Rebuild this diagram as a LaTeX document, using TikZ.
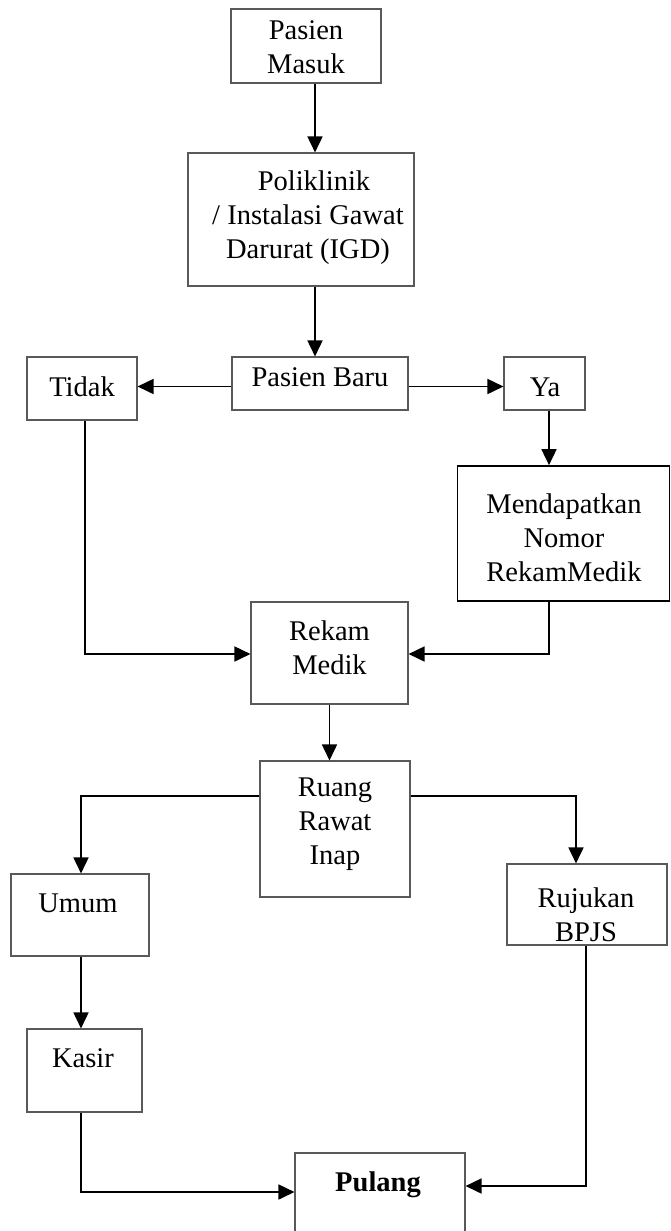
\documentclass[tikz,border=0pt]{standalone}
\usepackage{fontspec}
\setmainfont{Liberation Serif}
\usetikzlibrary{arrows.meta}
\tikzset{
  box/.style={draw=black!65, line width=1.1pt, inner sep=0pt, rectangle},
  boldbox/.style={draw=black, line width=1.7pt, inner sep=0pt, rectangle},
  txt/.style={align=center, inner sep=0pt, font=\fontsize{28.5}{34}\selectfont},
  arr/.style={line width=1.7pt, -{Triangle[length=16pt,width=15pt]}},
}
\begin{document}
\begin{tikzpicture}[x=1pt,y=-1pt]
\useasboundingbox (0,0) rectangle (671,1231);
% boxes
\node[box, minimum width=150pt, minimum height=74pt] (pm) at (306,46) {};
\node[box, minimum width=226pt, minimum height=133pt] (poli) at (301,219.5) {};
\node[box, minimum width=176pt, minimum height=53pt] (pb) at (320,383.5) {};
\node[box, minimum width=110pt, minimum height=63pt] (tidak) at (82,388.5) {};
\node[box, minimum width=81pt, minimum height=53pt] (ya) at (544.5,383.5) {};
\node[boldbox, minimum width=212pt, minimum height=135pt] (mn) at (563.5,533.5) {};
\node[box, minimum width=157pt, minimum height=102pt] (rm) at (329.5,653) {};
\node[box, minimum width=150pt, minimum height=136pt] (rri) at (335,829) {};
\node[box, minimum width=138pt, minimum height=82pt] (umum) at (80,915) {};
\node[box, minimum width=160pt, minimum height=81pt] (rujukan) at (587,904.5) {};
\node[box, minimum width=115pt, minimum height=83pt] (kasir) at (84.5,1070.5) {};
\node[box, minimum width=170pt, minimum height=92pt] (pulang) at (380,1199) {};
% texts
\node[txt] (pmt) at (306,47.5) {Pasien\\Masuk};
\node[txt] (polit) at (308,218) {\hspace*{12pt}Poliklinik\\/ Instalasi Gawat\\Darurat (IGD)};
\node[txt] (pbt) at (320,377) {Pasien Baru};
\node[txt] (tidakt) at (82,387) {Tidak};
\node[txt] (yat) at (545,387) {Ya};
\node[txt] (mnt) at (564,538) {Mendapatkan\\Nomor\\RekamMedik};
\node[txt] (rmt) at (329.5,648) {Rekam\\Medik};
\node[txt] (rrit) at (335,824) {Ruang\\Rawat\\Inap};
\node[txt] (umumt) at (78,903) {Umum};
\node[txt] (rujt) at (586,914.5) {Rujukan\\BPJS};
\node[txt] (kasirt) at (83,1058) {Kasir};
\node[txt, font=\fontsize{28.5}{34}\selectfont\bfseries] (pulangt) at (378,1185) {Pulang};
% connectors
\draw[arr] ([xshift=9pt]pm.south) -- ([xshift=9pt]pm.south |- poli.north);
\draw[arr] ([xshift=14pt]poli.south) -- ([xshift=14pt]poli.south |- pb.north);
\draw[arr] ([yshift=-3pt]pb.west) -- ([yshift=-3pt]pb.west -| tidak.east);
\draw[arr] ([yshift=-3pt]pb.east) -- ([yshift=-3pt]pb.east -| ya.west);
\draw[arr] ([xshift=4.5pt]ya.south) -- ([xshift=4.5pt]ya.south |- mn.north);
\draw[arr] ([xshift=3pt]tidak.south) |- ([yshift=-1pt]rm.west);
\draw[arr] ([xshift=-14.5pt]mn.south) |- ([yshift=-1pt]rm.east);
\draw[arr] (rm.south) -- (rm.south |- rri.north);
\draw[arr] ([yshift=33pt]rri.west) -| ([xshift=1pt]umum.north);
\draw[arr] ([yshift=33pt]rri.east) -| ([xshift=-11pt]rujukan.north);
\draw[arr] ([xshift=1pt]umum.south) -- ([xshift=1pt]umum.south |- kasir.north);
\draw[arr] ([xshift=-3.5pt]kasir.south) |- ([yshift=7pt]pulang.west);
\draw[arr] ([xshift=-1pt]rujukan.south) |- ([yshift=13pt]pulang.east);
\end{tikzpicture}
\end{document}
